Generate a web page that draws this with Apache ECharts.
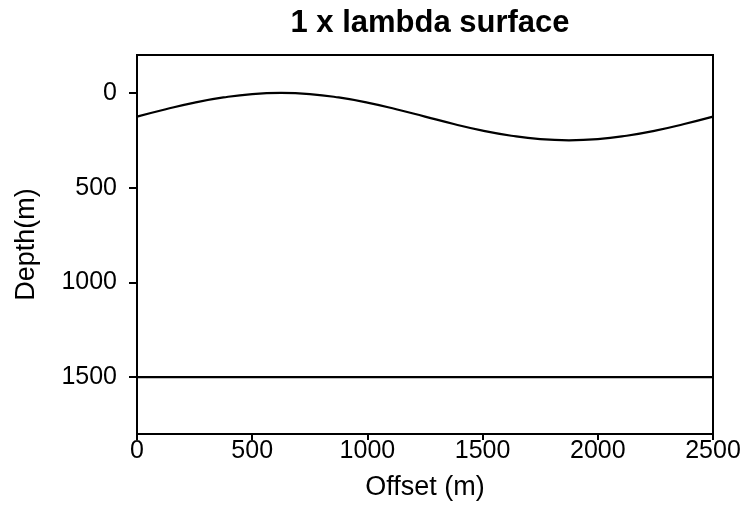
<!DOCTYPE html>
<html>
<head>
<meta charset="utf-8">
<script src="https://cdn.jsdelivr.net/npm/echarts@6/dist/echarts.min.js"></script>
<style>html,body{margin:0;padding:0;background:#fff}#c{width:746px;height:506px}</style>
</head>
<body>
<div id="c"></div>
<script>
var offsets = [0,125,250,375,500,625,750,875,1000,1125,1250,1375,1500,1625,1750,1875,2000,2125,2250,2375,2500];
var surfaceDepth = [125,86,51,24,6,0,6,24,51,86,125,164,199,226,244,250,244,226,199,164,125];
var flatOffsets = [0,2500];
var flatDepth = [1500,1500];
var xTicks = [0,500,1000,1500,2000,2500];
var yTicks = [0,500,1000,1500];

var chart = echarts.init(document.getElementById('c'), null, {renderer:'canvas'});
var font = '"Liberation Sans", Arial, sans-serif';
function plain(v){ return String(v); }
chart.setOption({
  animation:false,
  backgroundColor:'#fff',
  title:{text:'1 x lambda surface', left:430, textAlign:'center', top:8, padding:0,
    textStyle:{fontFamily:font, fontSize:31, fontWeight:'bold', color:'#000'}},
  grid:{left:137, right:33, top:55, bottom:71, show:true, borderColor:'#000', borderWidth:2},
  xAxis:{type:'value', min:0, max:2500, interval:500,
    name:'Offset (m)', nameLocation:'middle', nameGap:40, nameMoveOverlap:false,
    nameTextStyle:{fontFamily:font, fontSize:27, color:'#000'},
    axisLine:{show:true, onZero:false, lineStyle:{color:'#000', width:2}},
    axisTick:{show:true, inside:false, length:6, lineStyle:{color:'#000', width:2}, customValues:xTicks},
    axisLabel:{fontFamily:font, fontSize:25, color:'#000', margin:5, formatter:plain, customValues:xTicks},
    splitLine:{show:false}},
  yAxis:{type:'value', inverse:true, min:-200, max:1800,
    name:'Depth(m)', nameLocation:'middle', nameGap:97, nameRotate:90, nameMoveOverlap:false,
    nameTextStyle:{fontFamily:font, fontSize:27, color:'#000'},
    axisLine:{show:true, onZero:false, lineStyle:{color:'#000', width:2}},
    axisTick:{show:true, inside:false, length:8, lineStyle:{color:'#000', width:2}, customValues:yTicks},
    axisLabel:{fontFamily:font, fontSize:25, color:'#000', margin:20, formatter:plain, customValues:yTicks},
    splitLine:{show:false}},
  series:[
    {type:'line', data:offsets.map(function(x,i){return [x, surfaceDepth[i]];}),
      smooth:true, showSymbol:false, lineStyle:{color:'#000', width:2.2}},
    {type:'line', data:flatOffsets.map(function(x,i){return [x, flatDepth[i]];}),
      showSymbol:false, lineStyle:{color:'#000', width:2.2}}
  ]
});
</script>
</body>
</html>
